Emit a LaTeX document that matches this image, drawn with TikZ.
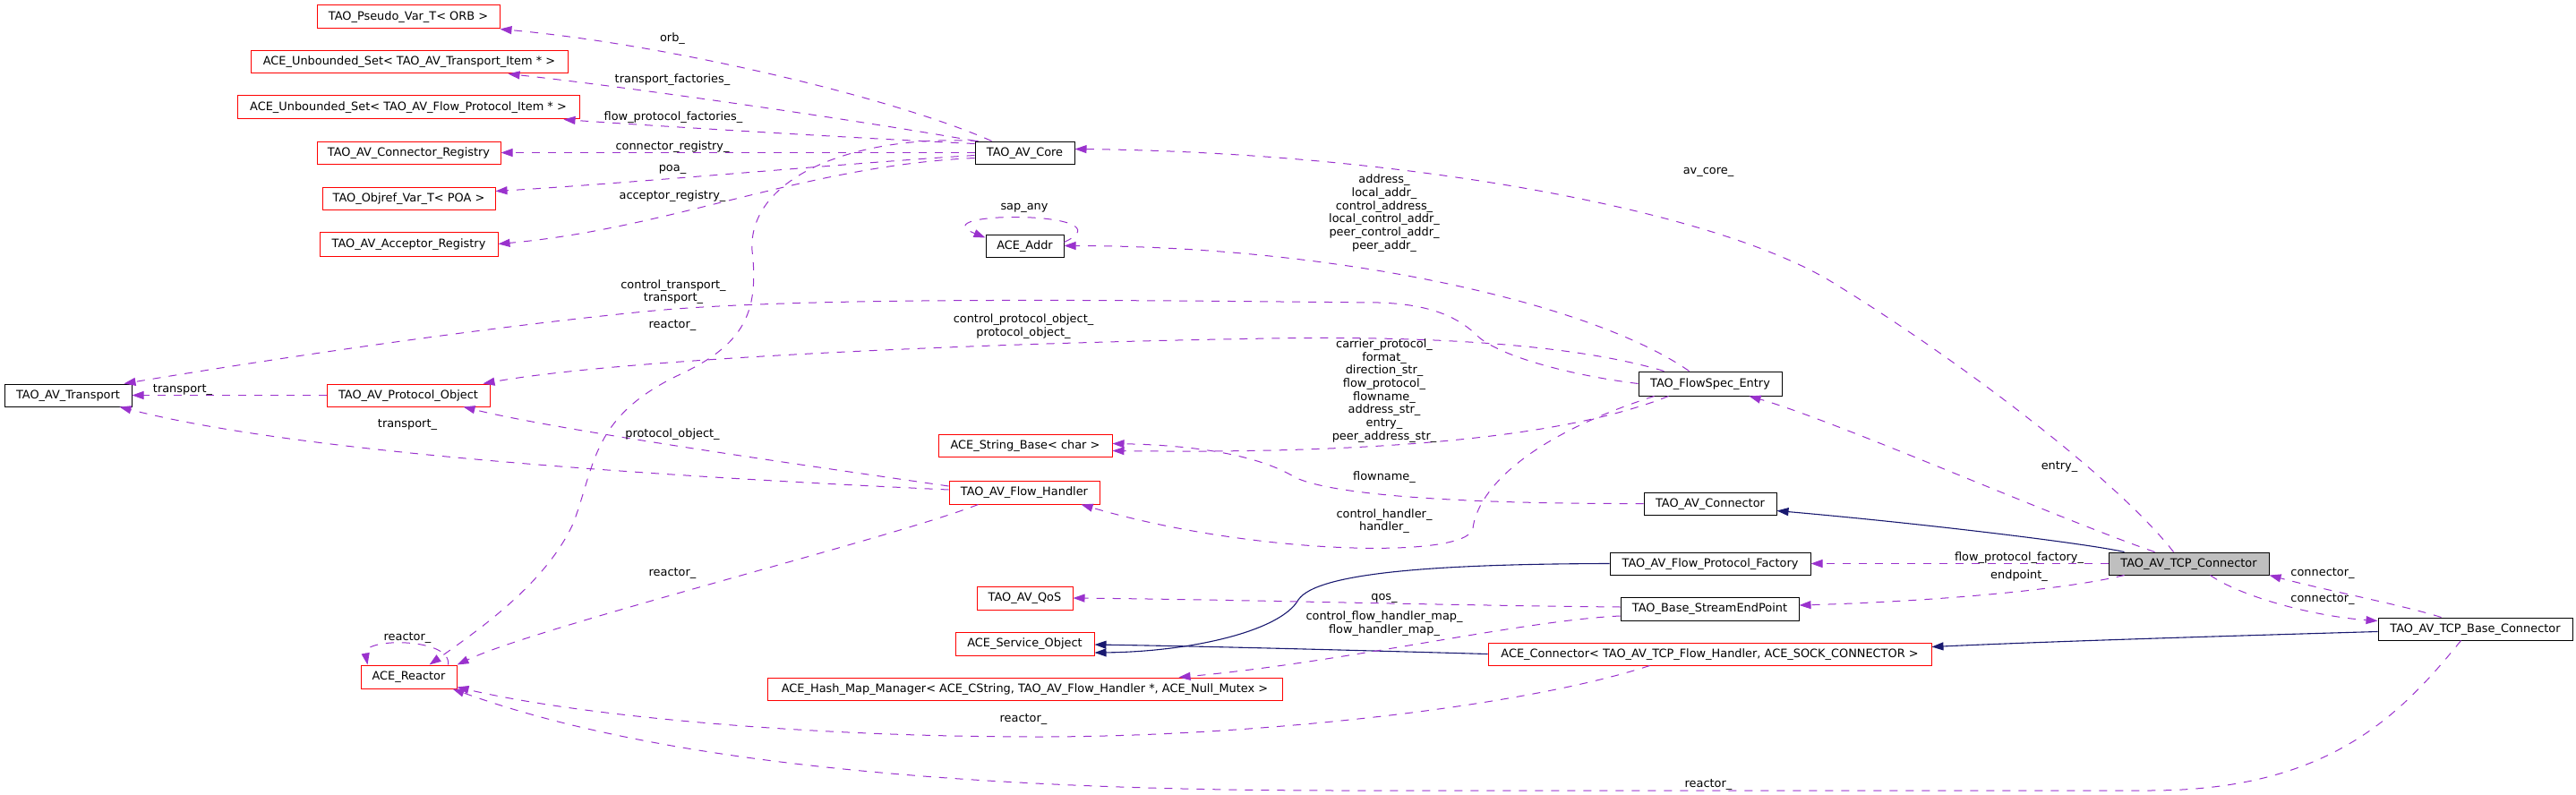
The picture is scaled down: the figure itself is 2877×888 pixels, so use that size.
\documentclass[tikz,border=0pt]{standalone}
\usepackage{fontspec}
\setmainfont{DejaVu Sans}
\usetikzlibrary{arrows.meta,calc}
\definecolor{usecol}{HTML}{9A32CD}
\definecolor{inhcol}{HTML}{191970}
\definecolor{selfill}{HTML}{BFBFBF}
\newcommand{\lblfont}{\fontsize{12.9}{14.7}\selectfont}
\tikzset{
  box/.style={draw=black, line width=1pt, rectangle, inner sep=0pt, minimum height=25pt, font=\lblfont, text height=9.5pt, text depth=2.5pt},
  redbox/.style={box, draw=red},
  uses/.style={draw=usecol, line width=1pt, dash pattern=on 9pt off 9pt, -{Triangle[length=13pt,width=9pt]}},
  inh/.style={draw=inhcol, line width=1.1pt, -{Triangle[length=13pt,width=9pt]}},
  lab/.style={inner sep=0pt, text height=9.5pt, text depth=2.5pt, align=center, font=\lblfont},
  mlab/.style={inner sep=0pt, align=center, font=\lblfont}
}
\begin{document}
\begin{tikzpicture}[x=1pt,y=-1pt]
\useasboundingbox (0,0) rectangle (2877,888);
% nodes
\node[redbox, minimum width=204pt, minimum height=26pt] (pseudo) at (456,19) {TAO\_Pseudo\_Var\_T< ORB >};
\node[redbox, minimum width=354pt] (unbT) at (457,69.5) {ACE\_Unbounded\_Set< TAO\_AV\_Transport\_Item * >};
\node[redbox, minimum width=382pt, minimum height=26pt] (unbF) at (456,120) {ACE\_Unbounded\_Set< TAO\_AV\_Flow\_Protocol\_Item * >};
\node[redbox, minimum width=205pt] (connreg) at (456.5,170.5) {TAO\_AV\_Connector\_Registry};
\node[redbox, minimum width=193pt] (objref) at (456.5,221.5) {TAO\_Objref\_Var\_T< POA >};
\node[redbox, minimum width=199pt, minimum height=27pt] (accreg) at (456.5,272.5) {TAO\_AV\_Acceptor\_Registry};
\node[box, minimum width=111pt] (core) at (1144.5,170.5) {TAO\_AV\_Core};
\node[box, minimum width=87pt] (addr) at (1144.5,274.5) {ACE\_Addr};
\node[box, minimum width=142pt] (transport) at (76,441.5) {TAO\_AV\_Transport};
\node[redbox, minimum width=182pt] (protobj) at (456,441.5) {TAO\_AV\_Protocol\_Object};
\node[redbox, minimum width=194pt] (strbase) at (1145,497.5) {ACE\_String\_Base< char >};
\node[redbox, minimum width=168pt, minimum height=26pt] (flowhandler) at (1144,550) {TAO\_AV\_Flow\_Handler};
\node[box, minimum width=160pt, minimum height=27pt] (flowspec) at (1910,428.5) {TAO\_FlowSpec\_Entry};
\node[box, minimum width=148pt] (avconn) at (1910,562.5) {TAO\_AV\_Connector};
\node[redbox, minimum width=107pt, minimum height=26pt] (reactor) at (456.5,756) {ACE\_Reactor};
\node[redbox, minimum width=107pt, minimum height=26pt] (qos) at (1144.5,668) {TAO\_AV\_QoS};
\node[redbox, minimum width=155pt, minimum height=26pt] (svcobj) at (1144.5,719) {ACE\_Service\_Object};
\node[redbox, minimum width=575pt] (hashmap) at (1144.5,769.5) {ACE\_Hash\_Map\_Manager< ACE\_CString, TAO\_AV\_Flow\_Handler *, ACE\_Null\_Mutex >};
\node[box, minimum width=224pt] (fpfactory) at (1910,629.5) {TAO\_AV\_Flow\_Protocol\_Factory};
\node[box, minimum width=199pt, minimum height=26pt] (sep) at (1909.5,680) {TAO\_Base\_StreamEndPoint};
\node[redbox, minimum width=495pt] (aceconn) at (1909.5,730.5) {ACE\_Connector< TAO\_AV\_TCP\_Flow\_Handler, ACE\_SOCK\_CONNECTOR >};
\node[box, fill=selfill, minimum width=179pt] (tcpconn) at (2444.5,629.5) {TAO\_AV\_TCP\_Connector};
\node[box, minimum width=217pt] (tcpbase) at (2764.5,702.5) {TAO\_AV\_TCP\_Base\_Connector};
% edges from TAO_AV_Core
\draw[uses] ($(core.north west)+(19,0)$) .. controls (1000,110) and (750,50) .. (pseudo.south east);
\draw[uses] ($(core.north west)+(1,0)$) .. controls (950,133) and (700,97) .. ($(unbT.south east)+(-67,0)$);
\draw[uses] ($(core.west)+(0,-10)$) .. controls (950,154) and (720,140) .. ($(unbF.south east)+(-18,0)$);
\draw[uses] (core.west) -- (connreg.east);
\draw[uses] ($(core.west)+(0,3)$) .. controls (950,182) and (700,205) .. ($(objref.north east)+(0,5)$);
\draw[uses] ($(core.west)+(0,6)$) .. controls (900,185) and (750,255) .. (accreg.east);
\draw[uses] ($(core.north west)+(4,0)$) .. controls (950,150) and (835,200) .. (840,280) .. controls (848,350) and (830,385) .. (760,418) .. controls (660,465) and (665,520) .. (640,585) .. controls (610,650) and (540,700) .. ($(reactor.north west)+(77,0)$);
% av_core_
\draw[uses] ($(tcpconn.north west)+(73,0)$) .. controls (2360,530) and (2170,390) .. (2041,312) .. controls (1900,230) and (1550,170) .. ($(core.east)+(0,-4)$);
% from FlowSpec
\draw[uses] ($(flowspec.north west)+(57,0)$) .. controls (1780,340) and (1500,275) .. (addr.east);
\draw[uses] (flowspec.west) .. controls (1760,420) and (1680,400) .. (1652,377) .. controls (1630,355) and (1600,340) .. (1540,338) .. controls (1300,336) and (900,330) .. (720,348) .. controls (500,370) and (250,410) .. ($(transport.north east)+(-9,0)$);
\draw[uses] ($(flowspec.north west)+(29,0)$) .. controls (1760,385) and (1600,375) .. (1420,378) .. controls (1100,383) and (700,400) .. ($(protobj.north east)+(-8,0)$);
\draw[uses] ($(flowspec.south west)+(34,0)$) .. controls (1720,500) and (1450,506) .. ($(strbase.east)+(0,6)$);
\draw[uses] ($(flowspec.south west)+(18,0)$) .. controls (1700,490) and (1650,550) .. (1645,590) .. controls (1640,625) and (1400,620) .. ($(flowhandler.south east)+(-21,0)$);
% from AV_Connector
\draw[uses] (avconn.west) .. controls (1600,563) and (1480,550) .. (1446,533) .. controls (1400,505) and (1320,497) .. ($(strbase.east)+(0,-2)$);
% from TCP connector
\draw[uses] ($(tcpconn.north west)+(52,0)$) .. controls (2300,580) and (2050,470) .. ($(flowspec.south east)+(-37,0)$);
\draw[inh] ($(tcpconn.north west)+(18,0)$) .. controls (2330,607) and (2150,585) .. ($(avconn.east)+(0,8)$);
\draw[uses] (tcpconn.west) -- (fpfactory.east);
\draw[uses] ($(tcpconn.south west)+(18,0)$) .. controls (2300,660) and (2150,672) .. ($(sep.east)+(0,-4)$);
\draw[uses] ($(tcpconn.south west)+(114,0)$) .. controls (2500,665) and (2580,688) .. ($(tcpbase.west)+(0,-9)$);
% from TCP base connector
\draw[uses] ($(tcpbase.north west)+(71,0)$) .. controls (2680,675) and (2600,660) .. (tcpconn.south east);
\draw[inh] ($(tcpbase.west)+(0,3)$) .. controls (2500,710) and (2300,716) .. ($(aceconn.east)+(0,-8)$);
\draw[uses] ($(tcpbase.south west)+(93,0)$) .. controls (2680,800) and (2600,883) .. (2400,883) -- (1500,883) .. controls (1000,883) and (700,840) .. ($(reactor.south east)+(-5,0)$);
% inheritance to service object
\draw[inh] (fpfactory.west) .. controls (1600,630) and (1470,640) .. (1450,670) .. controls (1430,705) and (1330,728) .. ($(svcobj.east)+(0,10)$);
\draw[inh] (aceconn.west) .. controls (1500,726) and (1350,722) .. ($(svcobj.east)+(0,1)$);
% from stream endpoint
\draw[uses] ($(sep.west)+(0,-2)$) .. controls (1600,676) and (1400,670) .. (qos.east);
\draw[uses] ($(sep.west)+(0,8)$) .. controls (1700,693) and (1500,740) .. ($(hashmap.north west)+(460,0)$);
% from ACE_Connector
\draw[uses] ($(aceconn.south west)+(181,0)$) .. controls (1700,790) and (1400,823) .. (1159,823) .. controls (900,823) and (650,800) .. ($(reactor.south east)+(0,-2)$);
% from flow handler
\draw[uses] ($(flowhandler.south west)+(33,0)$) .. controls (1000,600) and (600,700) .. (reactor.north east);
\draw[uses] ($(flowhandler.west)+(0,-3)$) .. controls (800,535) and (350,510) .. ($(transport.south east)+(-14,0)$);
\draw[uses] ($(flowhandler.west)+(0,-7)$) .. controls (900,520) and (620,480) .. ($(protobj.south east)+(-30,0)$);
% protocol object
\draw[uses] (protobj.west) -- (transport.east);
% self loops
\draw[uses] ($(reactor.north east)+(-10,0)$) .. controls (505,712) and (405,712) .. ($(reactor.north west)+(8,0)$);
\draw[uses] ($(addr.east)+(0,-4)$) .. controls (1265,235) and (1025,235) .. ($(addr.west)+(0,-9)$);
% labels
\node[lab] (l1) at (751,43) {orb\_};
\node[lab] (l2) at (751,89) {transport\_factories\_};
\node[lab] (l3) at (752,131) {flow\_protocol\_factories\_};
\node[lab] (l4) at (751,164) {connector\_registry\_};
\node[lab] (l5) at (751,188) {poa\_};
\node[lab] (l6) at (751,219) {acceptor\_registry\_};
\node[lab] (l7) at (751,363) {reactor\_};
\node[mlab] (l8) at (752,326) {control\_transport\_\\transport\_};
\node[mlab] (l9) at (1143,364.5) {control\_protocol\_object\_\\protocol\_object\_};
\node[lab] (l10) at (204,435) {transport\_};
\node[lab] (l11) at (455,474) {transport\_};
\node[lab] (l12) at (751,485) {protocol\_object\_};
\node[lab] (l13) at (751,640) {reactor\_};
\node[lab] (l14) at (455,712) {reactor\_};
\node[lab] (l15) at (1144,231) {sap\_any};
\node[mlab] (l16) at (1546,238) {address\_\\local\_addr\_\\control\_address\_\\local\_control\_addr\_\\peer\_control\_addr\_\\peer\_addr\_};
\node[lab] (l17) at (1908,191) {av\_core\_};
\node[mlab] (l18) at (1546,436.5) {carrier\_protocol\_\\format\_\\direction\_str\_\\flow\_protocol\_\\flowname\_\\address\_str\_\\entry\_\\peer\_address\_str\_};
\node[lab] (l19) at (1546,533) {flowname\_};
\node[mlab] (l20) at (1546,582) {control\_handler\_\\handler\_};
\node[lab] (l21) at (1546,667) {qos\_};
\node[mlab] (l22) at (1546,696.5) {control\_flow\_handler\_map\_\\flow\_handler\_map\_};
\node[lab] (l23) at (1143,803) {reactor\_};
\node[lab] (l24) at (1908,876) {reactor\_};
\node[lab] (l25) at (2300,521) {entry\_};
\node[lab] (l26) at (2255,623) {flow\_protocol\_factory\_};
\node[lab] (l27) at (2255,643) {endpoint\_};
\node[lab] (l28) at (2594,640) {connector\_};
\node[lab] (l29) at (2594,669) {connector\_};
\end{tikzpicture}
\end{document}
